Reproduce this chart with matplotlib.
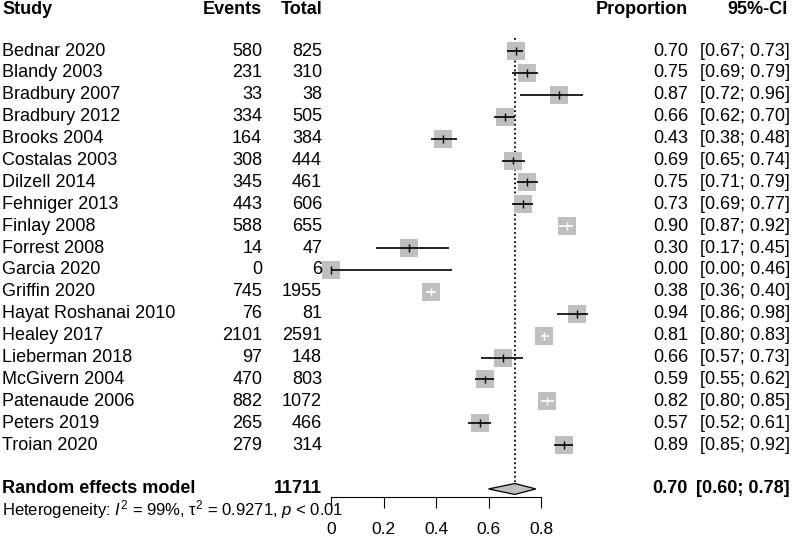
import matplotlib
matplotlib.use("Agg")
import matplotlib.pyplot as plt
import matplotlib.transforms as mtransforms
import numpy as np

plt.rcParams['font.family'] = ['Liberation Sans', 'DejaVu Sans']
plt.rcParams['mathtext.fontset'] = 'custom'
plt.rcParams['mathtext.rm'] = 'Liberation Sans'
plt.rcParams['mathtext.it'] = 'Liberation Sans:italic'

# study data
studies = ["Bednar 2020", "Blandy 2003", "Bradbury 2007", "Bradbury 2012", "Brooks 2004",
           "Costalas 2003", "Dilzell 2014", "Fehniger 2013", "Finlay 2008", "Forrest 2008",
           "Garcia 2020", "Griffin 2020", "Hayat Roshanai 2010", "Healey 2017",
           "Lieberman 2018", "McGivern 2004", "Patenaude 2006", "Peters 2019", "Troian 2020"]
events = [580, 231, 33, 334, 164, 308, 345, 443, 588, 14, 0, 745, 76, 2101, 97, 470, 882, 265, 279]
totals = [825, 310, 38, 505, 384, 444, 461, 606, 655, 47, 6, 1955, 81, 2591, 148, 803, 1072, 466, 314]
lower = [0.67, 0.69, 0.72, 0.62, 0.38, 0.65, 0.71, 0.69, 0.87, 0.17, 0.00, 0.36, 0.86, 0.80,
         0.57, 0.55, 0.80, 0.52, 0.85]
upper = [0.73, 0.79, 0.96, 0.70, 0.48, 0.74, 0.79, 0.77, 0.92, 0.45, 0.46, 0.40, 0.98, 0.83,
         0.73, 0.62, 0.85, 0.61, 0.92]

# pooled estimate
pooled = 0.70
pooled_lo = 0.60
pooled_hi = 0.78
pooled_total = 11711
het_text = r"Heterogeneity: $I^2$ = 99%, τ$^2$ = 0.9271, $p$ < 0.01"
xticks = [0, 0.2, 0.4, 0.6, 0.8]

prop = np.array(events) / np.array(totals)
rows = np.arange(len(studies))
pooled_row = len(studies) + 1
fs = 13
grey = '#bfbfbf'

fig = plt.figure(figsize=(7.92, 5.38), dpi=100)
ax = fig.add_axes([0, 0, 1, 1])
ax.set_xlim(-1.261, 1.756)
ax.set_ylim(22.24, -2.33)
ax.patch.set_visible(False)

# text columns: x in figure fraction, y in row units
tr = mtransforms.blended_transform_factory(ax.transAxes, ax.transData)
col_study, col_events, col_total, col_prop, col_ci = 0.003, 0.331, 0.4066, 0.8687, 0.9975
head_row = -1.9

ax.text(col_study, head_row, "Study", transform=tr, fontsize=fs, fontweight='bold', va='center')
ax.text(col_events, head_row, "Events", transform=tr, fontsize=fs, fontweight='bold', va='center', ha='right')
ax.text(col_total, head_row, "Total", transform=tr, fontsize=fs, fontweight='bold', va='center', ha='right')
ax.text(col_prop, head_row, "Proportion", transform=tr, fontsize=fs, fontweight='bold', va='center', ha='right')
ax.text(0.994, head_row, "95%-CI", transform=tr, fontsize=fs, fontweight='bold', va='center', ha='right')

for i, name in enumerate(studies):
    ax.text(col_study, i, name, transform=tr, fontsize=fs, va='center')
    ax.text(col_events, i, str(events[i]), transform=tr, fontsize=fs, va='center', ha='right')
    ax.text(col_total, i, str(totals[i]), transform=tr, fontsize=fs, va='center', ha='right')
    ax.text(col_prop, i, "%.2f" % prop[i], transform=tr, fontsize=fs, va='center', ha='right')
    ax.text(col_ci, i, "[%.2f; %.2f]" % (lower[i], upper[i]), transform=tr, fontsize=fs,
            va='center', ha='right')

ax.text(col_study, pooled_row, "Random effects model", transform=tr, fontsize=fs,
        fontweight='bold', va='center')
ax.text(col_total, pooled_row, str(pooled_total), transform=tr, fontsize=fs,
        fontweight='bold', va='center', ha='right')
ax.text(col_prop, pooled_row, "%.2f" % pooled, transform=tr, fontsize=fs,
        fontweight='bold', va='center', ha='right')
ax.text(col_ci, pooled_row, "[%.2f; %.2f]" % (pooled_lo, pooled_hi), transform=tr, fontsize=fs,
        fontweight='bold', va='center', ha='right')
ax.text(col_study, pooled_row + 0.95, het_text, transform=tr, fontsize=12, va='center')

# reference line at pooled estimate
ax.vlines(pooled, -0.6, pooled_row - 0.3, colors='black', linestyles=(0, (1, 1.5)),
          linewidth=1.3, zorder=1)

# squares
ax.scatter(prop, rows, marker='s', s=150, color=grey, linewidths=0, zorder=2, clip_on=False)

# CI lines, white when they fit inside the square
for i in rows:
    c = 'white' if upper[i] - lower[i] < 0.055 else 'black'
    ax.hlines(i, lower[i], upper[i], colors=c, linewidth=1.2, zorder=3)
    ax.vlines(prop[i], i - 0.18, i + 0.18, colors=c, linewidth=1.0, zorder=3)

# diamond
ax.fill([pooled_lo, pooled, pooled_hi, pooled],
        [pooled_row, pooled_row - 0.25, pooled_row, pooled_row + 0.25],
        facecolor=grey, edgecolor='black', linewidth=0.9, zorder=3)

# x axis
for s in ['left', 'right', 'top']:
    ax.spines[s].set_visible(False)
ax.spines['bottom'].set_position(('data', pooled_row + 0.37))
ax.spines['bottom'].set_bounds(xticks[0], xticks[-1])
ax.spines['bottom'].set_linewidth(0.8)
ax.set_xticks(xticks)
ax.set_xticklabels(["%g" % t for t in xticks])
ax.tick_params(axis='x', direction='out', length=8, width=0.8, pad=10, labelsize=12.5)
ax.set_yticks([])

plt.savefig('out.png', dpi=100)
